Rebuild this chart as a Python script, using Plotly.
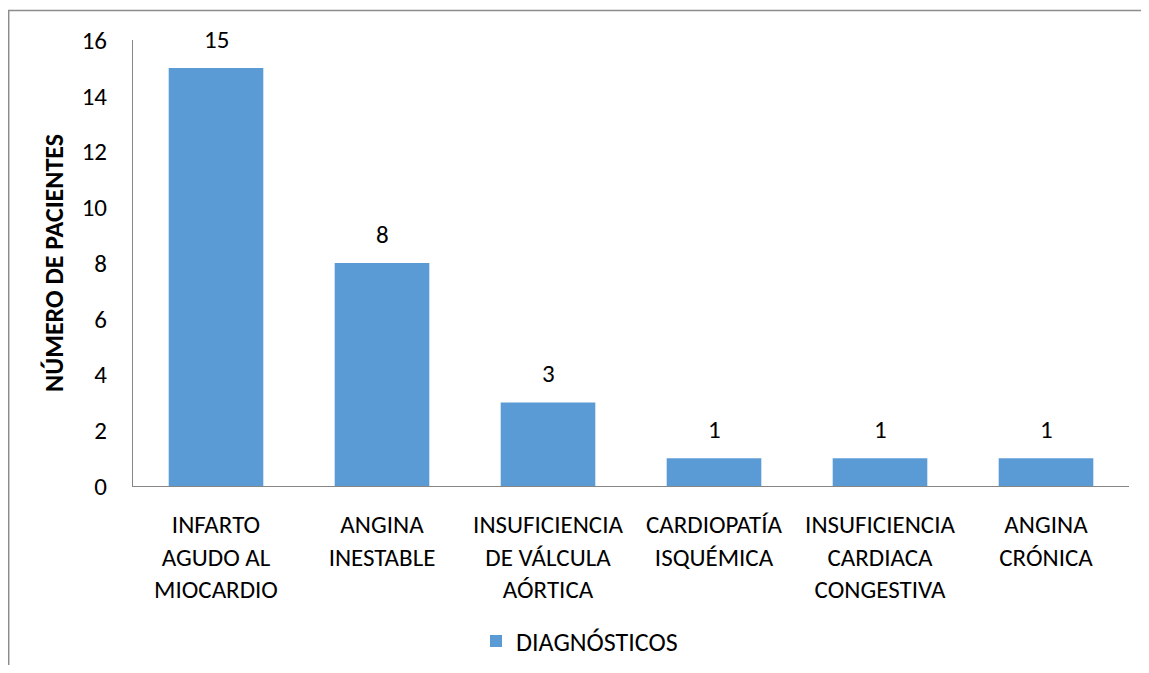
import plotly.graph_objects as go

categories = [
    "INFARTO<br>AGUDO AL<br>MIOCARDIO",
    "ANGINA<br>INESTABLE",
    "INSUFICIENCIA<br>DE VÁLCULA<br>AÓRTICA",
    "CARDIOPATÍA<br>ISQUÉMICA",
    "INSUFICIENCIA<br>CARDIACA<br>CONGESTIVA",
    "ANGINA<br>CRÓNICA",
]
values = [15, 8, 3, 1, 1, 1]
series_name = "DIAGNÓSTICOS"
y_title = "NÚMERO DE PACIENTES"
y_ticks = [0, 2, 4, 6, 8, 10, 12, 14, 16]

FONT = "Carlito, Lato, sans-serif"
FS = 25
BAR_COLOR = "#5B9BD5"
AXIS_COLOR = "#868686"

# page body has an 8px margin; figure is sized/positioned to compensate
OFF = 8
W, H = 1149 - OFF, 673 - 2 * OFF
L, T = 133 - OFF, 40 - OFF
R = W - (1129 - OFF)
B = H - (486 - OFF)
pw, ph = W - L - R, H - T - B


def px_x(p):
    return (p - OFF - L) / pw


def px_y(p):
    return (H - B - (p - OFF)) / ph


fig = go.Figure()
fig.add_trace(go.Bar(
    x=categories, y=values, name=series_name,
    marker=dict(color=BAR_COLOR, line=dict(width=0)),
    showlegend=True,
))

for c, v in zip(categories, values):
    fig.add_annotation(x=c, y=v, text=str(v), showarrow=False,
                       yanchor="bottom", yshift=11,
                       font=dict(family=FONT, size=FS, color="#000000"))

# chart frame (top and left edges visible)
fig.add_shape(type="line", xref="paper", yref="paper",
              x0=px_x(8), x1=px_x(1170), y0=px_y(10.5), y1=px_y(10.5),
              line=dict(color="#8c8c8c", width=1.5))
fig.add_shape(type="line", xref="paper", yref="paper",
              x0=px_x(8.7), x1=px_x(8.7), y0=px_y(10), y1=px_y(700),
              line=dict(color="#8c8c8c", width=1.5))

fig.update_layout(
    width=W, height=H,
    margin=dict(l=L, r=R, t=T, b=B, autoexpand=False),
    paper_bgcolor="white", plot_bgcolor="white",
    bargap=0.43,
    font=dict(family=FONT, size=FS, color="#000000"),
    legend=dict(orientation="h", x=px_x(476), y=px_y(641),
                xanchor="left", yanchor="middle",
                font=dict(family=FONT, size=26, color="#000000"),
                itemwidth=30),
)
fig.update_xaxes(
    showline=True, linecolor=AXIS_COLOR, linewidth=1,
    showgrid=False, ticks="", ticklabelstandoff=16,
    tickfont=dict(family=FONT, size=FS, color="#000000"),
    tickangle=0,
)
fig.update_yaxes(
    range=[0, 16], tickvals=y_ticks, showline=True, linecolor=AXIS_COLOR,
    linewidth=1, showgrid=False, zeroline=False, ticks="",
    ticklabelstandoff=20,
    tickfont=dict(family=FONT, size=FS, color="#000000"),
    title=dict(text="<b>" + y_title + "</b>", standoff=10,
               font=dict(family=FONT, size=26, color="#000000")),
)

fig.write_html("out.html")
